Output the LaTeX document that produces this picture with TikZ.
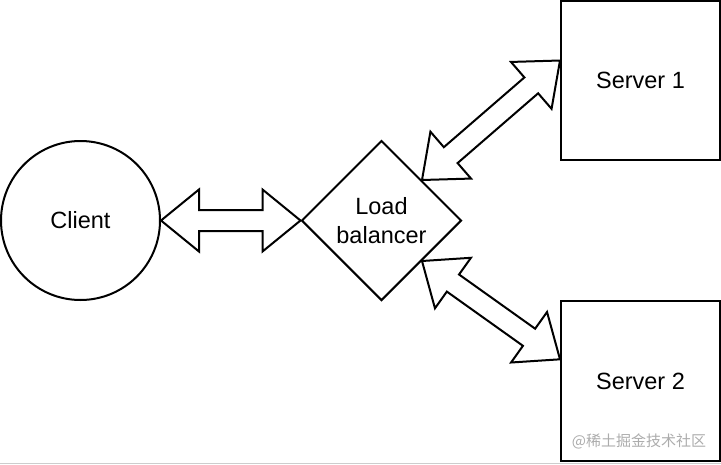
\documentclass[tikz,border=0pt]{standalone}
\usepackage{fontspec}
\setmainfont{Liberation Sans}
\newfontfamily\cjkfont{Noto Sans CJK SC}
\usetikzlibrary{shapes.geometric,calc}
\definecolor{wmgray}{RGB}{172,172,172}
\definecolor{edgegray}{RGB}{205,205,205}
\tikzset{
  basebox/.style={draw, line width=2pt, inner sep=0pt, text=black,
    font=\fontsize{23.5}{28.5}\selectfont},
  clientshape/.style={basebox, circle, minimum size=159pt},
  lbshape/.style={basebox, diamond, minimum width=160pt, minimum height=160pt, align=center},
  servershape/.style={basebox, rectangle, minimum width=159pt, minimum height=159pt},
  fatarrow/.style={draw, line width=2pt, line join=miter},
  watermark/.style={inner sep=0pt, text=wmgray, font=\cjkfont\fontsize{15}{15}\selectfont}
}
\newcommand\fatarr[2]{%
  \draw[fatarrow] (#1)
   -- ($(#1)!38pt!(#2)!31pt!90:(#2)$)
   -- ($(#1)!38pt!(#2)!10.5pt!90:(#2)$)
   -- ($(#2)!38pt!(#1)!10.5pt!-90:(#1)$)
   -- ($(#2)!38pt!(#1)!31pt!-90:(#1)$)
   -- (#2)
   -- ($(#2)!38pt!(#1)!31pt!90:(#1)$)
   -- ($(#2)!38pt!(#1)!10.5pt!90:(#1)$)
   -- ($(#1)!38pt!(#2)!10.5pt!-90:(#2)$)
   -- ($(#1)!38pt!(#2)!31pt!-90:(#2)$)
   -- cycle;}
\begin{document}
\begin{tikzpicture}[x=1pt,y=-1pt]
  \useasboundingbox (0,0) rectangle (721,464);
  \fill[edgegray] (0,462.5) rectangle (721,464);
  \node[clientshape] (client) at (80.5,220.5) {Client};
  \node[lbshape] (lb) at (381.5,220.5) {Load\\balancer};
  \node[servershape] (s1) at (640.5,80.5) {Server 1};
  \node[servershape, minimum height=160pt] (s2) at (640.5,381.3) {Server 2};
  \coordinate (s1in) at ([yshift=20pt]s1.west);
  \coordinate (s2in) at ([yshift=22pt]s2.west);
  \fatarr{client.east}{lb.west}
  \fatarr{lb.north east}{s1in}
  \fatarr{lb.south east}{s2in}
  \node[watermark] (wm) at (639,441.5) {@稀土掘金技术社区};
\end{tikzpicture}
\end{document}
